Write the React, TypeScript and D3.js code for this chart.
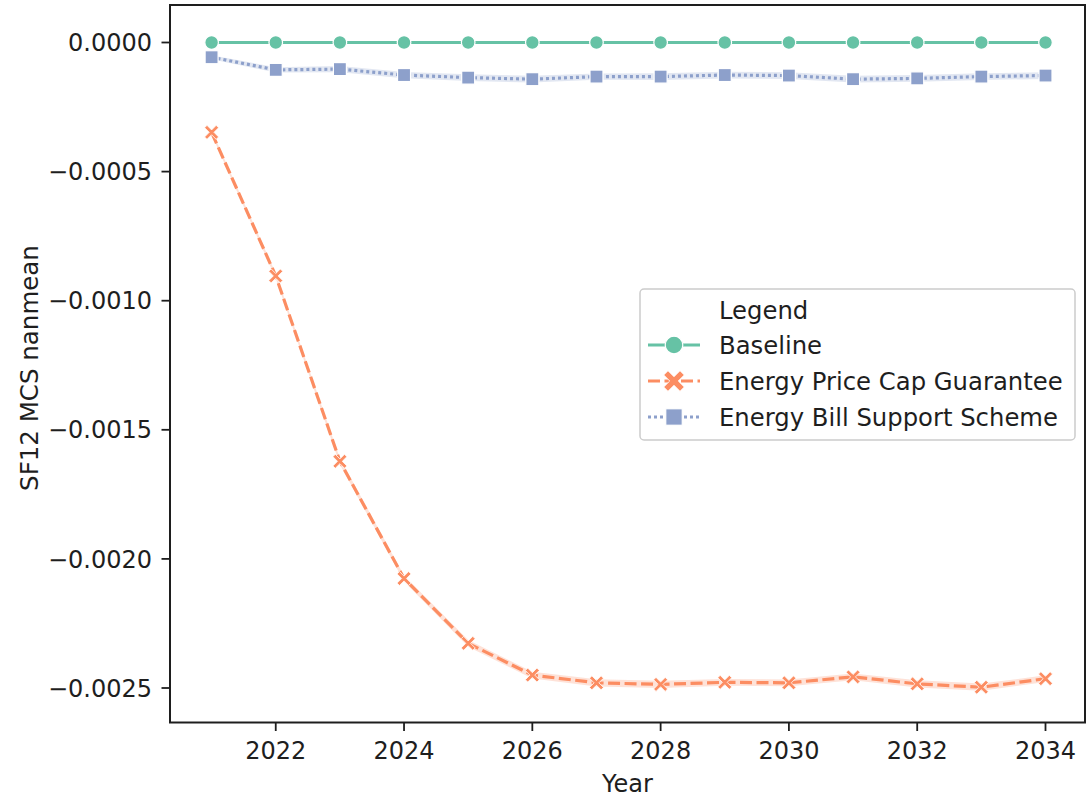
import React, { useRef, useEffect } from "react";
import * as d3 from "d3";

// years on the x axis
const years = [2021, 2022, 2023, 2024, 2025, 2026, 2027, 2028, 2029, 2030, 2031, 2032, 2033, 2034];

// SF12 MCS nanmean per scenario
const baseline = [0, 0, 0, 0, 0, 0, 0, 0, 0, 0, 0, 0, 0, 0];
const priceCap = [
  -0.000348, -0.000904, -0.001622, -0.002076, -0.002327, -0.00245, -0.00248,
  -0.002486, -0.002478, -0.00248, -0.002457, -0.002484, -0.002497, -0.002464,
];
const billSupport = [
  -0.000057, -0.000106, -0.000103, -0.000126, -0.000136, -0.000142, -0.000132,
  -0.000132, -0.000126, -0.000128, -0.000142, -0.000139, -0.000132, -0.000128,
];

// half width of the confidence bands
const baselineCi = [0.000004, 0.000004, 0.000004, 0.000004, 0.000004, 0.000004, 0.000004, 0.000004, 0.000004, 0.000004, 0.000004, 0.000004, 0.000004, 0.000004];
const priceCapCi = [0.000008, 0.00001, 0.000012, 0.000012, 0.000013, 0.000013, 0.000014, 0.000014, 0.000013, 0.000013, 0.000013, 0.000014, 0.000014, 0.000013];
const billSupportCi = [0.000008, 0.00001, 0.000012, 0.000012, 0.000013, 0.000013, 0.000012, 0.000013, 0.000013, 0.000013, 0.000013, 0.000013, 0.000013, 0.000013];

const seriesNames = ["Baseline", "Energy Price Cap Guarantee", "Energy Bill Support Scheme"];
const yTicks = [0, -0.0005, -0.001, -0.0015, -0.002, -0.0025];
const xTicks = [2022, 2024, 2026, 2028, 2030, 2032, 2034];

const colors = ["#66c2a5", "#fc8d62", "#8da0cb"];
const dashes = [null, "12,4.5", "3,3"];
const FONT = "DejaVu Sans";
const INK = "#1e1e1e";

// filled "X" marker as a rotated plus
function xPath(cx, cy, L, t) {
  const pts = [
    [t, L], [t, t], [L, t], [L, -t], [t, -t], [t, -L],
    [-t, -L], [-t, -t], [-L, -t], [-L, t], [-t, t], [-t, L],
  ];
  const c = Math.SQRT1_2;
  return (
    "M" +
    pts.map(([px, py]) => `${cx + (px - py) * c},${cy + (px + py) * c}`).join("L") +
    "Z"
  );
}

function drawMarker(g, kind, cx, cy, color, big) {
  if (kind === 0) {
    g.append("circle").attr("cx", cx).attr("cy", cy).attr("r", big ? 8.8 : 6.8)
      .attr("fill", color).attr("stroke", "white").attr("stroke-width", 1.2);
  } else if (kind === 1) {
    g.append("path").attr("d", big ? xPath(cx, cy, 11.5, 3) : xPath(cx, cy, 8.2, 1.7))
      .attr("fill", color).attr("stroke", "white").attr("stroke-width", 0.8);
  } else {
    const s = big ? 16.5 : 13;
    g.append("rect").attr("x", cx - s / 2).attr("y", cy - s / 2).attr("width", s).attr("height", s)
      .attr("fill", color).attr("stroke", "white").attr("stroke-width", 1.2);
  }
}

const App = () => {
  const svgRef = useRef();

  useEffect(() => {
    const svg = d3.select(svgRef.current);
    svg.selectAll("*").remove();

    const left = 170, right = 1085, top = 5, bottom = 722.5;

    const x = d3.scaleLinear().domain([2021, 2034]).range([211.6, 1045.5]);
    const y = d3.scaleLinear().domain([0, -0.0025]).range([42.5, 688]);

    const all = [baseline, priceCap, billSupport];
    const cis = [baselineCi, priceCapCi, billSupportCi];

    const plot = svg.append("g");

    // bands
    all.forEach((vals, i) => {
      const area = d3.area()
        .x((d, j) => x(years[j]))
        .y0((d, j) => y(d - cis[i][j]))
        .y1((d, j) => y(d + cis[i][j]));
      plot.append("path").attr("d", area(vals)).attr("fill", colors[i]).attr("opacity", 0.25);
    });

    // lines
    all.forEach((vals, i) => {
      const line = d3.line().x((d, j) => x(years[j])).y((d) => y(d));
      plot.append("path").attr("d", line(vals)).attr("fill", "none")
        .attr("stroke", colors[i]).attr("stroke-width", 3.2)
        .attr("stroke-dasharray", dashes[i])
        .attr("stroke-linejoin", "round");
    });

    // markers
    all.forEach((vals, i) => {
      vals.forEach((d, j) => drawMarker(plot, i, x(years[j]), y(d), colors[i], false));
    });

    // spines
    svg.append("rect").attr("x", left).attr("y", top).attr("width", right - left).attr("height", bottom - top)
      .attr("fill", "none").attr("stroke", INK).attr("stroke-width", 2);

    // y ticks
    const fmt = (v) => (v < 0 ? "\u2212" : "") + Math.abs(v).toFixed(4);
    yTicks.forEach((t) => {
      svg.append("line").attr("x1", left - 8.5).attr("x2", left).attr("y1", y(t)).attr("y2", y(t))
        .attr("stroke", INK).attr("stroke-width", 1.8);
      svg.append("text").attr("x", left - 18).attr("y", y(t)).attr("dy", "0.36em")
        .attr("text-anchor", "end").attr("font-family", FONT).attr("font-size", 24)
        .attr("fill", INK).text(fmt(t));
    });

    // x ticks
    xTicks.forEach((t) => {
      svg.append("line").attr("x1", x(t)).attr("x2", x(t)).attr("y1", bottom).attr("y2", bottom + 8.5)
        .attr("stroke", INK).attr("stroke-width", 1.8);
      svg.append("text").attr("x", x(t)).attr("y", 758.5)
        .attr("text-anchor", "middle").attr("font-family", FONT).attr("font-size", 24)
        .attr("fill", INK).text(t);
    });

    // axis labels
    svg.append("text").attr("x", (left + right) / 2).attr("y", 792).attr("text-anchor", "middle")
      .attr("font-family", FONT).attr("font-size", 24).attr("fill", INK).text("Year");
    svg.append("text").attr("transform", `translate(38,368) rotate(-90)`)
      .attr("text-anchor", "middle").attr("font-family", FONT).attr("font-size", 24.5)
      .attr("fill", INK).text("SF12 MCS nanmean");

    // legend
    const lg = svg.append("g");
    lg.append("rect").attr("x", 640).attr("y", 289).attr("width", 435).attr("height", 151)
      .attr("rx", 4).attr("fill", "white").attr("fill-opacity", 0.8)
      .attr("stroke", "#cccccc").attr("stroke-width", 1.5);
    lg.append("text").attr("x", 719).attr("y", 310).attr("dy", "0.36em")
      .attr("font-family", FONT).attr("font-size", 24.3).attr("fill", INK).text("Legend");
    const rowY = [345, 381, 417];
    seriesNames.forEach((name, i) => {
      const ry = rowY[i];
      lg.append("line").attr("x1", 648).attr("x2", 700).attr("y1", ry).attr("y2", ry)
        .attr("stroke", colors[i]).attr("stroke-width", 3.2).attr("stroke-dasharray", dashes[i]);
      drawMarker(lg, i, 674, ry, colors[i], true);
      lg.append("text").attr("x", 719).attr("y", ry).attr("dy", "0.36em")
        .attr("font-family", FONT).attr("font-size", 24.3).attr("fill", INK).text(name);
    });
  }, []);

  return (
    <svg
      ref={svgRef}
      width={1086}
      height={798}
      style={{ position: "absolute", left: 0, top: 0, background: "white" }}
    ></svg>
  );
};

export default App;
